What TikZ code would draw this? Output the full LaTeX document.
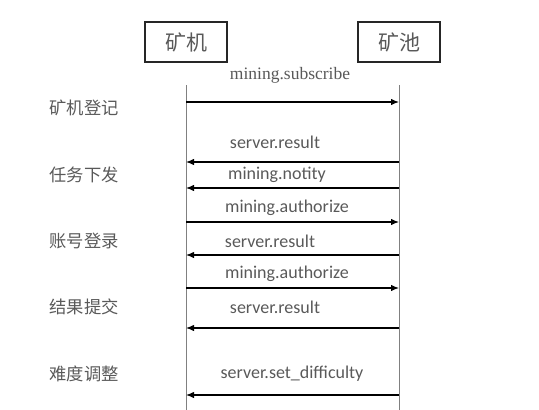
\documentclass[tikz,border=0pt]{standalone}
\usepackage{fontspec}
\setmainfont{Carlito}
\newfontfamily\cjk{Noto Sans CJK SC}
\newfontfamily\msgserif{Liberation Serif}
\usepackage{tikz}
\usetikzlibrary{positioning, arrows.meta}
\definecolor{cInk}  {HTML}{262626}
\definecolor{cText} {HTML}{595959}
\definecolor{cLine} {HTML}{808080}

\begin{document}
\begin{tikzpicture}[x=1pt, y=-1pt,
    actor/.style={draw=cInk, line width=1.1pt, minimum width=82pt, minimum height=40pt,
                  inner sep=0pt, font=\cjk\fontsize{21}{21}\selectfont, text=cText},
    phase/.style={anchor=west, font=\cjk\fontsize{17.3}{17.3}\selectfont, text=cText},
    msg/.style={font=\fontsize{18}{18}\selectfont, text=cText},
    call/.style={-{Latex[length=8pt, width=6.5pt]}, line width=1.2pt, draw=black},
    life/.style={line width=0.7pt, draw=cLine}]
  \useasboundingbox (0,0) rectangle (539,410);
  % actors and lifelines
  \node[actor] (miner) at (186,42) {矿机};
  \node[actor] (pool)  at (399,42) {矿池};
  \coordinate (minerTop) at (186,85);
  \coordinate (minerBot) at (186,410);
  \coordinate (poolTop)  at (399,85);
  \coordinate (poolBot)  at (399,410);
  \draw[life] (minerTop) -- (minerBot);
  \draw[life] (poolTop) -- (poolBot);
  % phases
  \foreach \y/\name/\txt in {108/reg/矿机登记, 175/job/任务下发, 241/auth/账号登录,
                             307/submit/结果提交, 374/diff/难度调整}{
    \node[phase] (\name) at (46,\y) {\txt};
  }
  % messages
  \foreach \n/\y/\from/\to in {1/102/m/p, 2/162/p/m, 3/188/p/m, 4/222/m/p,
                               5/255/p/m, 6/288/m/p, 7/328/p/m, 8/395/p/m}{
    \coordinate (m\n) at (186,\y);
    \coordinate (p\n) at (399,\y);
    \draw[call] (\from\n) -- (\to\n);
  }
  \node[msg, font=\msgserif\fontsize{17.5}{17.5}\selectfont] (lbl1) at (290,75) {mining.subscribe};
  \foreach \n/\lx/\ly/\txt in {2/275/142/server.result, 3/277/175/mining.notity,
                               4/287/208/mining.authorize, 5/270/241/server.result,
                               6/287/274/mining.authorize, 7/275/307/server.result,
                               8/292/374/server.set\_difficulty}{
    \node[msg] (lbl\n) at (\lx,\ly) {\txt};
  }
\end{tikzpicture}
\end{document}
